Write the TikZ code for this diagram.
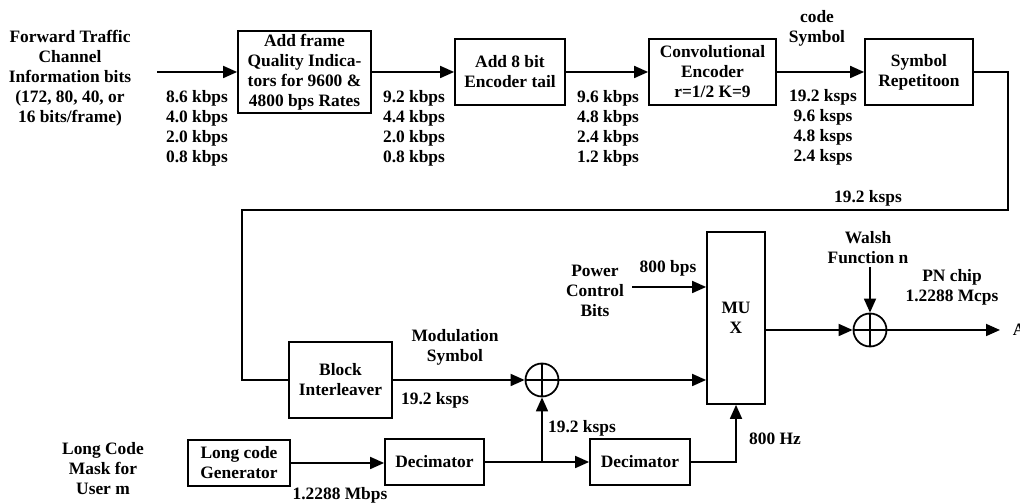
\documentclass[tikz,border=0pt]{standalone}
\usepackage{fontspec}
\setmainfont{Liberation Serif}
\usetikzlibrary{arrows.meta, positioning, calc}

\begin{document}
\begin{tikzpicture}[line width=1pt, >={Triangle[length=2.8mm, width=2.4mm]},
        every node/.style={font=\fontsize{9.9}{11.4}\selectfont\bfseries},
        blk/.style={rectangle, draw, align=center, inner sep=1pt},
        txt/.style={align=center, inner sep=0pt},
        adder/.style={circle, draw, minimum size=0.66cm, inner sep=0pt,
            path picture={\draw (path picture bounding box.north) -- (path picture bounding box.south)
                (path picture bounding box.west) -- (path picture bounding box.east);}}]
    \useasboundingbox (0,0) rectangle (20.4,10.08);

    % top chain
    \node[txt] (fwd) at (1.4,8.52) {Forward Traffic\\Channel\\Information bits\\(172, 80, 40, or\\16 bits/frame)};
    \coordinate (src) at (3.14,8.64);
    \node[blk, minimum width=2.66cm, minimum height=1.64cm] (fqi) at (6.09,8.64) {Add frame\\Quality Indica-\\tors for 9600 \&\\4800 bps Rates};
    \node[blk, minimum width=2.2cm, minimum height=1.32cm] (tail) at (10.2,8.64) {Add 8 bit\\Encoder tail};
    \node[blk, minimum width=2.54cm, minimum height=1.32cm] (conv) at (14.25,8.64) {Convolutional\\Encoder\\r=1/2 K=9};
    \node[blk, minimum width=2.16cm, minimum height=1.32cm] (rep) at (18.38,8.64) {Symbol\\Repetitoon};
    \draw[->] (src) -- (fqi);
    \draw[->] (fqi) -- (tail);
    \draw[->] (tail) -- (conv);
    \draw[->] (conv) -- (rep);
    \node[txt] (rate1) at (3.94,7.52) {8.6 kbps\\4.0 kbps\\2.0 kbps\\0.8 kbps};
    \node[txt] (rate2) at (8.28,7.52) {9.2 kbps\\4.4 kbps\\2.0 kbps\\0.8 kbps};
    \node[txt] (rate3) at (12.16,7.52) {9.6 kbps\\4.8 kbps\\2.4 kbps\\1.2 kbps};
    \node[txt] (rate4) at (16.46,7.54) {19.2 ksps\\9.6 ksps\\4.8 ksps\\2.4 ksps};
    \node[txt] (csym) at (16.34,9.52) {code\\Symbol};

    % route down to the interleaver
    \coordinate (c1) at (20.16,8.64);
    \coordinate (c2) at (20.16,5.88);
    \coordinate (c3) at (4.84,5.88);
    \node[txt] (rate5) at (17.36,6.12) {19.2 ksps};
    \node[blk, minimum width=2.06cm, minimum height=1.52cm] (intl) at (6.81,2.48) {Block\\Interleaver};
    \draw (rep.east) -- (c1) -- (c2) -- (c3) |- (intl.west);

    % lower chain
    \node[adder] (add1) at (10.84,2.48) {};
    \node[blk, minimum width=1.16cm, minimum height=3.44cm] (mux) at (14.72,3.72) {MU\\X};
    \node[adder] (add2) at (17.4,3.48) {};
    \node[txt] (modsym) at (9.1,3.14) {Modulation\\Symbol};
    \node[txt] (rate6) at (8.7,2.08) {19.2 ksps};
    \node[txt] (pcb) at (11.9,4.26) {Power\\Control\\Bits};
    \coordinate (pwr) at (12.64,4.34);
    \node[txt] (rate7) at (13.36,4.72) {800 bps};
    \node[txt] (walsh) at (17.36,5.12) {Walsh\\Function n};
    \coordinate (wtop) at (17.4,4.74);
    \node[txt] (pn) at (19.04,4.34) {PN chip\\1.2288 Mcps};
    \coordinate (out) at (20.0,3.48);
    \node[txt, anchor=west] (outA) at (20.24,3.48) {A};
    \draw[->] (intl) -- (add1);
    \draw[->] (add1) -- (add1 -| mux.west);
    \draw[->] (pwr) -- (pwr -| mux.west);
    \draw[->] (mux.east |- add2) -- (add2);
    \draw[->] (wtop) -- (add2);
    \draw[->] (add2) -- (out);

    % long code branch
    \node[txt] (mask) at (2.06,0.7) {Long Code\\Mask for\\User m};
    \node[blk, minimum width=2.04cm, minimum height=0.92cm] (lcg) at (4.78,0.82) {Long code\\Generator};
    \node[blk, minimum width=1.98cm, minimum height=0.92cm] (dec1) at (8.69,0.84) {Decimator};
    \node[blk, minimum width=2.0cm, minimum height=0.92cm] (dec2) at (12.8,0.84) {Decimator};
    \coordinate (jn) at (10.84,0.84);
    \node[txt] (rate8) at (6.8,0.18) {1.2288 Mbps};
    \node[txt] (rate9) at (11.64,1.52) {19.2 ksps};
    \node[txt] (hz) at (15.5,1.3) {800 Hz};
    \draw[->] (lcg) -- (lcg -| dec1.west);
    \draw (dec1) -- (jn);
    \draw[->] (jn) -- (dec2);
    \draw[->] (jn) -- (add1);
    \draw[->] (dec2) -| (mux.south);
\end{tikzpicture}
\end{document}
